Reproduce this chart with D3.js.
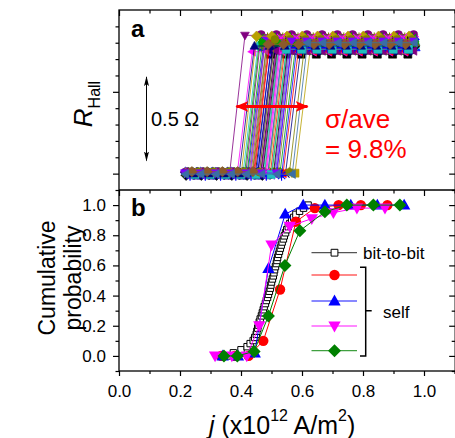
<!DOCTYPE html>
<html>
<head>
<meta charset="utf-8">
<script src="https://cdn.jsdelivr.net/npm/d3@7"></script>
<style>
body { margin: 0; background: #fff; }
svg { display: block; font-family: "Liberation Sans", Arial, sans-serif; }
</style>
</head>
<body>
<svg id="chart" width="455" height="438"></svg>
<script>
// ---- data ----
// bit-to-bit switching currents (x10^12 A/m^2), sorted
var bitJ = [0.355, 0.375, 0.40, 0.42, 0.43, 0.44, 0.445, 0.45, 0.452, 0.455,
	0.457, 0.46, 0.463, 0.467, 0.47, 0.473, 0.476, 0.48, 0.483, 0.487,
	0.49, 0.493, 0.496, 0.498, 0.50, 0.503, 0.506, 0.508, 0.51, 0.513,
	0.516, 0.518, 0.52, 0.523, 0.526, 0.529, 0.532, 0.535, 0.539, 0.542,
	0.546, 0.55, 0.555, 0.56, 0.566, 0.573, 0.58, 0.592, 0.605, 0.62];

// self (repeated switching of single bits)
var redJ = [0.335, 0.38, 0.425, 0.473, 0.528, 0.58, 0.642, 0.72, 0.793, 0.88];
var redP = [0, 0, 0, 0.10, 0.44, 0.89, 0.98, 1.0, 1.0, 1.0];
var blueJ = [0.34, 0.39, 0.445, 0.49, 0.545, 0.604, 0.675, 0.76, 0.847, 0.935];
var blueP = [0, 0, 0.02, 0.58, 0.94, 1.0, 1.0, 1.0, 1.0, 1.0];
var magJ = [0.315, 0.37, 0.419, 0.46, 0.50, 0.56, 0.632, 0.703, 0.78, 0.872];
var magP = [0, 0, 0, 0.20, 0.735, 0.86, 0.91, 0.95, 0.98, 0.98];
var grnJ = [0.344, 0.388, 0.443, 0.49, 0.544, 0.593, 0.675, 0.747, 0.834, 0.921];
var grnP = [0, 0, 0.03, 0.265, 0.60, 0.83, 0.955, 1.0, 1.0, 1.0];

// panel a: switching current of each swept bit (mid-point of its jump)
var sweepSw = [0.472, 0.521, 0.448, 0.493, 0.553, 0.431, 0.503, 0.481, 0.534, 0.458,
	0.512, 0.602, 0.441, 0.489, 0.466, 0.543, 0.412, 0.527, 0.498, 0.462,
	0.571, 0.484, 0.452, 0.538, 0.516, 0.388, 0.495, 0.563, 0.476, 0.508,
	0.437, 0.501, 0.584, 0.479, 0.455, 0.547, 0.513, 0.426, 0.491, 0.531,
	0.469, 0.558, 0.506, 0.445, 0.524, 0.486, 0.419, 0.541, 0.464, 0.593];
// Hall resistance levels of each bit (ohm, relative)
var lowR = [0.004, -0.006, 0.010, -0.002, 0.007, -0.009, 0.002, 0.012, -0.004, 0.006,
	-0.011, 0.003, 0.009, -0.005, 0.001, 0.008, -0.007, 0.011, -0.001, 0.005,
	0.000, -0.008, 0.010, 0.004, -0.003, 0.007, -0.010, 0.002, 0.009, -0.006,
	0.006, -0.002, 0.011, -0.009, 0.003, 0.008, -0.004, 0.001, 0.010, -0.007,
	0.005, -0.011, 0.007, 0.002, -0.005, 0.009, -0.001, 0.004, 0.012, -0.003];
var highR = [0.73, 0.80, 0.77, 0.82, 0.76, 0.79, 0.84, 0.75, 0.81, 0.78,
	0.80, 0.76, 0.85, 0.79, 0.77, 0.82, 0.745, 0.81, 0.78, 0.83,
	0.76, 0.80, 0.79, 0.825, 0.77, 0.845, 0.78, 0.75, 0.81, 0.80,
	0.83, 0.77, 0.79, 0.76, 0.82, 0.80, 0.78, 0.84, 0.75, 0.81,
	0.79, 0.77, 0.83, 0.80, 0.76, 0.82, 0.78, 0.81, 0.79, 0.80];
var sweepStep = 0.05;
var sweepMin = 0.215, sweepMax = 0.975;

var xTicks = [0, 0.2, 0.4, 0.6, 0.8, 1.0];
var xMinor = [0.1, 0.3, 0.5, 0.7, 0.9, 1.1];
var pTicks = [0, 0.2, 0.4, 0.6, 0.8, 1.0];
var pMinor = [-0.1, 0.1, 0.3, 0.5, 0.7, 0.9, 1.1];
var rTicks = [0, 0.5];
var rMinor = [0.1, 0.2, 0.3, 0.4, 0.6, 0.7, 0.8, 0.9];

var curveColors = ['#000000', '#ff0000', '#0000ff', '#ff00ff', '#00a000', '#1fbfbf', '#808000',
	'#000080', '#8000ff', '#8b5a2b', '#3a6ea5', '#b8a000', '#800080'];
var curveShapes = ['square', 'circle', 'triUp', 'triDown', 'diamond', 'triLeft', 'triRight',
	'hexagon', 'star', 'cross', 'pentagon'];

// ---- layout ----
var svg = d3.select('#chart');
var left = 119, right = 455.2;
var x = d3.scaleLinear().domain([0, 1.1]).range([left, 454.5]);
var yA = d3.scaleLinear().domain([-0.1, 1.0]).range([190, 10]);
var yB = d3.scaleLinear().domain([-0.1, 1.1]).range([371, 190]);

var markerPath = function(shape, r) {
	var p, i, a;
	switch (shape) {
	case 'square':
		return 'M' + (-r) + ',' + (-r) + 'h' + 2 * r + 'v' + 2 * r + 'h' + (-2 * r) + 'Z';
	case 'circle':
		return 'M' + r + ',0A' + r + ',' + r + ' 0 1,1 ' + (-r) + ',0A' + r + ',' + r + ' 0 1,1 ' + r + ',0Z';
	case 'triUp':
		return 'M0,' + (-1.15 * r) + 'L' + r * 1.1 + ',' + 0.8 * r + 'L' + (-r * 1.1) + ',' + 0.8 * r + 'Z';
	case 'triDown':
		return 'M0,' + 1.15 * r + 'L' + r * 1.1 + ',' + (-0.8 * r) + 'L' + (-r * 1.1) + ',' + (-0.8 * r) + 'Z';
	case 'triLeft':
		return 'M' + (-1.15 * r) + ',0L' + 0.8 * r + ',' + (-r * 1.1) + 'L' + 0.8 * r + ',' + r * 1.1 + 'Z';
	case 'triRight':
		return 'M' + 1.15 * r + ',0L' + (-0.8 * r) + ',' + (-r * 1.1) + 'L' + (-0.8 * r) + ',' + r * 1.1 + 'Z';
	case 'diamond':
		return 'M0,' + (-1.3 * r) + 'L' + 1.3 * r + ',0L0,' + 1.3 * r + 'L' + (-1.3 * r) + ',0Z';
	case 'hexagon':
	case 'pentagon':
		var n = shape == 'hexagon' ? 6 : 5;
		p = [];
		for (i = 0; i < n; i++) {
			a = -Math.PI / 2 + i * 2 * Math.PI / n;
			p.push((1.1 * r * Math.cos(a)).toFixed(2) + ',' + (1.1 * r * Math.sin(a)).toFixed(2));
		}
		return 'M' + p.join('L') + 'Z';
	case 'star':
		p = '';
		for (i = 0; i < 4; i++) {
			a = i * Math.PI / 4;
			p += 'M' + (1.3 * r * Math.cos(a)).toFixed(2) + ',' + (1.3 * r * Math.sin(a)).toFixed(2) +
				'L' + (-1.3 * r * Math.cos(a)).toFixed(2) + ',' + (-1.3 * r * Math.sin(a)).toFixed(2);
		}
		return p;
	case 'cross':
		return 'M' + (-r) + ',' + (-r) + 'L' + r + ',' + r + 'M' + r + ',' + (-r) + 'L' + (-r) + ',' + r;
	}
};
var strokeOnly = function(shape) { return shape == 'star' || shape == 'cross'; };

// ---- panel a: R_Hall sweeps of every bit ----
var gA = svg.append('g').attr('class', 'panel-a');
var line = d3.line().x(function(d) { return x(d[0]); });

var curves = sweepSw.map(function(sw, i) {
	var pts = [], j;
	var lowPts = [];
	for (j = sw - sweepStep / 2; j >= sweepMin; j -= sweepStep) lowPts.unshift([j, lowR[i]]);
	for (j = sw + sweepStep / 2; j <= sweepMax; j += sweepStep) pts.push([j, highR[i]]);
	return {
		pts: lowPts.concat(pts),
		color: curveColors[i % curveColors.length],
		shape: curveShapes[i % curveShapes.length]
	};
});

var cg = gA.selectAll('g.curve').data(curves).enter().append('g').attr('class', 'curve');
cg.append('path')
	.attr('d', function(d) { return line.y(function(p) { return yA(p[1]); })(d.pts); })
	.attr('fill', 'none')
	.attr('stroke', function(d) { return d.color; })
	.attr('stroke-width', 0.8);
cg.each(function(c) {
	d3.select(this).selectAll('path.m').data(c.pts).enter().append('path')
		.attr('class', 'm')
		.attr('transform', function(p) { return 'translate(' + x(p[0]) + ',' + yA(p[1]) + ')'; })
		.attr('d', markerPath(c.shape, 4))
		.attr('fill', strokeOnly(c.shape) ? 'none' : c.color)
		.attr('stroke', c.color)
		.attr('stroke-width', strokeOnly(c.shape) ? 1.1 : 0.6);
});

// ---- panel b: cumulative probability ----
var gB = svg.append('g').attr('class', 'panel-b');
var bitP = bitJ.map(function(d, i) { return i / (bitJ.length - 1); });
var lineB = d3.line().x(function(d) { return x(d[0]); }).y(function(d) { return yB(d[1]); });

var series = [
	{ j: redJ, p: redP, color: '#ff0000', shape: 'circle', r: 5.2 },
	{ j: blueJ, p: blueP, color: '#0000ff', shape: 'triUp', r: 5.6 },
	{ j: magJ, p: magP, color: '#ff00ff', shape: 'triDown', r: 5.6 },
	{ j: grnJ, p: grnP, color: '#008000', shape: 'diamond', r: 5.0 }
];

var bitPts = d3.zip(bitJ, bitP);
gB.append('path').attr('d', lineB(bitPts)).attr('fill', 'none')
	.attr('stroke', '#333').attr('stroke-width', 1);
gB.selectAll('path.bit').data(bitPts).enter().append('path')
	.attr('class', 'bit')
	.attr('transform', function(d) { return 'translate(' + x(d[0]) + ',' + yB(d[1]) + ')'; })
	.attr('d', markerPath('square', 3.2))
	.attr('fill', '#fff').attr('stroke', '#000').attr('stroke-width', 1);

series.forEach(function(s) {
	var pts = d3.zip(s.j, s.p);
	gB.append('path').attr('d', lineB(pts)).attr('fill', 'none')
		.attr('stroke', s.color).attr('stroke-width', 1);
	gB.selectAll(null).data(pts).enter().append('path')
		.attr('transform', function(d) { return 'translate(' + x(d[0]) + ',' + yB(d[1]) + ')'; })
		.attr('d', markerPath(s.shape, s.r))
		.attr('fill', s.color);
});

// ---- axes ----
var axisG = svg.append('g').attr('class', 'axes');
var addAxis = function(axis, tx, ty, vals, size, labels) {
	var g = axisG.append('g').attr('transform', 'translate(' + tx + ',' + ty + ')')
		.call(axis.tickValues(vals).tickSize(size).tickPadding(labels ? 8 : 0)
			.tickFormat(labels ? d3.format('.1f') : ''));
	g.select('.domain').remove();
	g.selectAll('line').attr('stroke', '#000').attr('stroke-width', 1.2);
	g.selectAll('text').attr('font-size', 17).attr('fill', '#000')
		.attr('font-family', '"Liberation Sans", Arial, sans-serif');
	return g;
};
// panel a
addAxis(d3.axisLeft(yA), left, 0, rTicks, 6, false);
addAxis(d3.axisLeft(yA), left, 0, rMinor, 3.5, false);
addAxis(d3.axisRight(yA), right, 0, rTicks, -6, false);
addAxis(d3.axisRight(yA), right, 0, rMinor, -3.5, false);
addAxis(d3.axisTop(x), 0, 10, xTicks, -6, false);
addAxis(d3.axisTop(x), 0, 10, xMinor, -3.5, false);
// panel b
addAxis(d3.axisLeft(yB), left, 0, pTicks, 6, true).selectAll('text').attr('dx', 1);
addAxis(d3.axisLeft(yB), left, 0, pMinor, 3.5, false);
addAxis(d3.axisRight(yB), right, 0, pTicks, -6, false);
addAxis(d3.axisRight(yB), right, 0, pMinor, -3.5, false);
addAxis(d3.axisTop(x), 0, 190, xTicks, -6, false);
addAxis(d3.axisTop(x), 0, 190, xMinor, -3.5, false);
addAxis(d3.axisBottom(x), 0, 371, xTicks, 5, true).selectAll('text').attr('dy', '0.71em').attr('y', 14);
addAxis(d3.axisBottom(x), 0, 371, xMinor, 3, false);

// frames
axisG.append('rect').attr('x', left).attr('y', 10).attr('width', right - left).attr('height', 361)
	.attr('fill', 'none').attr('stroke', '#000').attr('stroke-width', 1.3);
axisG.append('line').attr('x1', left).attr('x2', right).attr('y1', 190).attr('y2', 190)
	.attr('stroke', '#000').attr('stroke-width', 1.3);

// ---- labels ----
svg.append('text').attr('x', 131).attr('y', 37).attr('font-size', 24).attr('font-weight', 'bold').text('a');
svg.append('text').attr('x', 131).attr('y', 216).attr('font-size', 24).attr('font-weight', 'bold').text('b');

var rl = svg.append('text').attr('transform', 'translate(92,104) rotate(-90)')
	.attr('text-anchor', 'middle').attr('font-size', 26);
rl.append('tspan').attr('font-style', 'italic').text('R');
rl.append('tspan').attr('font-size', 16).attr('dy', 8).text('Hall');

svg.append('text').attr('transform', 'translate(55,278) rotate(-90)')
	.attr('text-anchor', 'middle').attr('font-size', 23).text('Cumulative');
svg.append('text').attr('transform', 'translate(81,278) rotate(-90)')
	.attr('text-anchor', 'middle').attr('font-size', 23).text('probability');

var xl = svg.append('text').attr('x', 209).attr('y', 434).attr('font-size', 25);
xl.append('tspan').attr('font-style', 'italic').text('j');
xl.append('tspan').text(' (x10');
xl.append('tspan').attr('font-size', 16).attr('dy', -13).text('12');
xl.append('tspan').attr('dy', 13).text(' A/m');
xl.append('tspan').attr('font-size', 16).attr('dy', -13).text('2');
xl.append('tspan').attr('dy', 13).text(')');

// 0.5 ohm scale arrow
var defs = svg.append('defs');
defs.append('marker').attr('id', 'thin').attr('viewBox', '0 0 10 10').attr('refX', 9).attr('refY', 5)
	.attr('markerWidth', 10).attr('markerHeight', 10).attr('markerUnits', 'userSpaceOnUse')
	.attr('orient', 'auto-start-reverse')
	.append('path').attr('d', 'M0,2.5L10,5L0,7.5L2,5Z').attr('fill', '#000');
defs.append('marker').attr('id', 'fat').attr('viewBox', '0 0 12 10').attr('refX', 11).attr('refY', 5)
	.attr('markerWidth', 13).attr('markerHeight', 11).attr('markerUnits', 'userSpaceOnUse')
	.attr('orient', 'auto-start-reverse')
	.append('path').attr('d', 'M0,0L12,5L0,10L3,5Z').attr('fill', '#ff0000');

svg.append('line').attr('x1', 146.5).attr('x2', 146.5).attr('y1', yA(0.59)).attr('y2', yA(0.08))
	.attr('stroke', '#000').attr('stroke-width', 1)
	.attr('marker-start', 'url(#thin)').attr('marker-end', 'url(#thin)');
svg.append('text').attr('x', 151).attr('y', 126).attr('font-size', 20).text('0.5 \u03A9');

svg.append('line').attr('x1', x(0.385)).attr('x2', x(0.618)).attr('y1', 106.5).attr('y2', 106.5)
	.attr('stroke', '#ff0000').attr('stroke-width', 3)
	.attr('marker-start', 'url(#fat)').attr('marker-end', 'url(#fat)');
svg.append('text').attr('x', 325).attr('y', 128).attr('font-size', 26).attr('fill', '#ff0000').text('\u03C3/ave');
svg.append('text').attr('x', 325).attr('y', 158).attr('font-size', 26).attr('fill', '#ff0000').text('= 9.8%');

// ---- legend ----
var leg = svg.append('g').attr('class', 'legend');
var legRows = [
	{ y: 252.7, color: '#555', shape: 'square', r: 3.4, fill: '#fff', stroke: '#000' },
	{ y: 275, color: '#ff6060', shape: 'circle', r: 5.2, fill: '#ff0000' },
	{ y: 301, color: '#6060ff', shape: 'triUp', r: 5.6, fill: '#0000ff' },
	{ y: 326, color: '#ff60ff', shape: 'triDown', r: 5.6, fill: '#ff00ff' },
	{ y: 350.7, color: '#40a040', shape: 'diamond', r: 5.0, fill: '#008000' }
];
legRows.forEach(function(r) {
	leg.append('line').attr('x1', 311.5).attr('x2', 357).attr('y1', r.y).attr('y2', r.y)
		.attr('stroke', r.color).attr('stroke-width', 1.3);
	leg.append('path').attr('transform', 'translate(334.5,' + r.y + ')')
		.attr('d', markerPath(r.shape, r.r)).attr('fill', r.fill)
		.attr('stroke', r.stroke || 'none').attr('stroke-width', 1);
});
leg.append('text').attr('x', 363).attr('y', 258.5).attr('font-size', 17).text('bit-to-bit');
leg.append('path').attr('d', 'M360,267.3H365.7V356H360M365.7,310.7H371.7')
	.attr('fill', 'none').attr('stroke', '#000').attr('stroke-width', 1.5);
leg.append('text').attr('x', 383).attr('y', 317.5).attr('font-size', 17).text('self');
</script>
</body>
</html>
